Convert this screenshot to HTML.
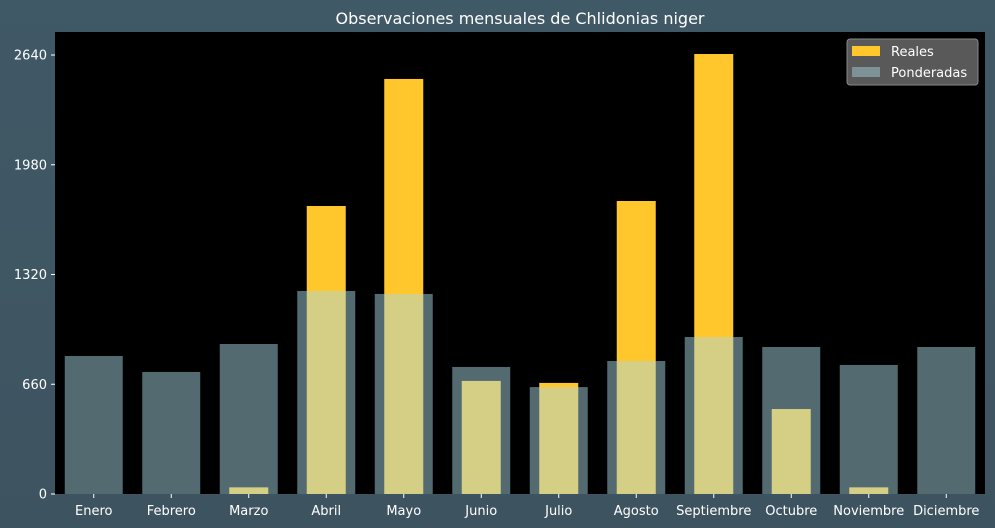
<!DOCTYPE html>
<html><head><meta charset="utf-8"><style>
body{margin:0;background:#3f5663;}
svg{display:block;font-family:"DejaVu Sans","Liberation Sans",sans-serif;}
</style></head><body>
<svg id="chart" width="995" height="528">
<defs><linearGradient id="bg" x1="0" y1="0" x2="0" y2="1"><stop offset="0" stop-color="#405966"/><stop offset="1" stop-color="#3e5360"/></linearGradient></defs>
<rect width="995" height="528" fill="url(#bg)"/>
<text x="520" y="24" fill="#fff" font-size="16" text-anchor="middle">Observaciones mensuales de Chlidonias niger</text>
<rect x="55" y="32" width="930" height="462" fill="#000"/>
<g id="bars"></g><g id="axes"></g>
<g>
<rect x="847" y="39" width="131" height="46" rx="3" fill="#595959" stroke="#888" stroke-width="1"/>
<rect x="852" y="46" width="28" height="10" fill="#ffc72c"/>
<text x="891" y="56" fill="#fff" font-size="13">Reales</text>
<rect x="852" y="67" width="28" height="10" fill="#7d9297"/>
<text x="891" y="77" fill="#fff" font-size="13">Ponderadas</text>
</g>
</svg>
<script>
const categories=["Enero","Febrero","Marzo","Abril","Mayo","Junio","Julio","Agosto","Septiembre","Octubre","Noviembre","Diciembre"];
const reales=[0,0,40,1732,2496,680,668,1762,2646,511,40,0];
const ponderadas=[830,734,902,1221,1203,764,643,800,944,884,776,884];
const yTicks=[0,660,1320,1980,2640];
const NS="http://www.w3.org/2000/svg";
const x0=55,x1=985,yBase=494,yTop=55;
const step=(x1-x0)/categories.length;
function xc(i){return x0+step*(i+0.5);}
function y(v){return yBase-(v/2640)*(yBase-yTop);}
const bars=document.getElementById('bars'),axes=document.getElementById('axes');
function mk(t,a,p){const e=document.createElementNS(NS,t);for(const k in a)e.setAttribute(k,a[k]);p.appendChild(e);return e;}
reales.forEach((v,i)=>{const r=mk('rect',{x:xc(i)-19.5,y:y(v),width:39,height:yBase-y(v),fill:'#ffc72c'},bars);

});
ponderadas.forEach((v,i)=>{const r=mk('rect',{x:xc(i)-29,y:y(v),width:58,height:yBase-y(v),fill:'rgb(169,216,229)','fill-opacity':0.49},bars);

});
categories.forEach((c,i)=>{mk('line',{x1:xc(i),x2:xc(i),y1:494,y2:498,stroke:'#fff'},axes);
const t=mk('text',{x:xc(i),y:515,fill:'#fff','font-size':13,'text-anchor':'middle'},axes);t.textContent=c;

});
yTicks.forEach(v=>{mk('line',{x1:51,x2:55,y1:y(v),y2:y(v),stroke:'#fff'},axes);
const t=mk('text',{x:47,y:y(v)+4.5,fill:'#fff','font-size':13,'text-anchor':'end'},axes);t.textContent=v;

});
</script>
</body></html>
